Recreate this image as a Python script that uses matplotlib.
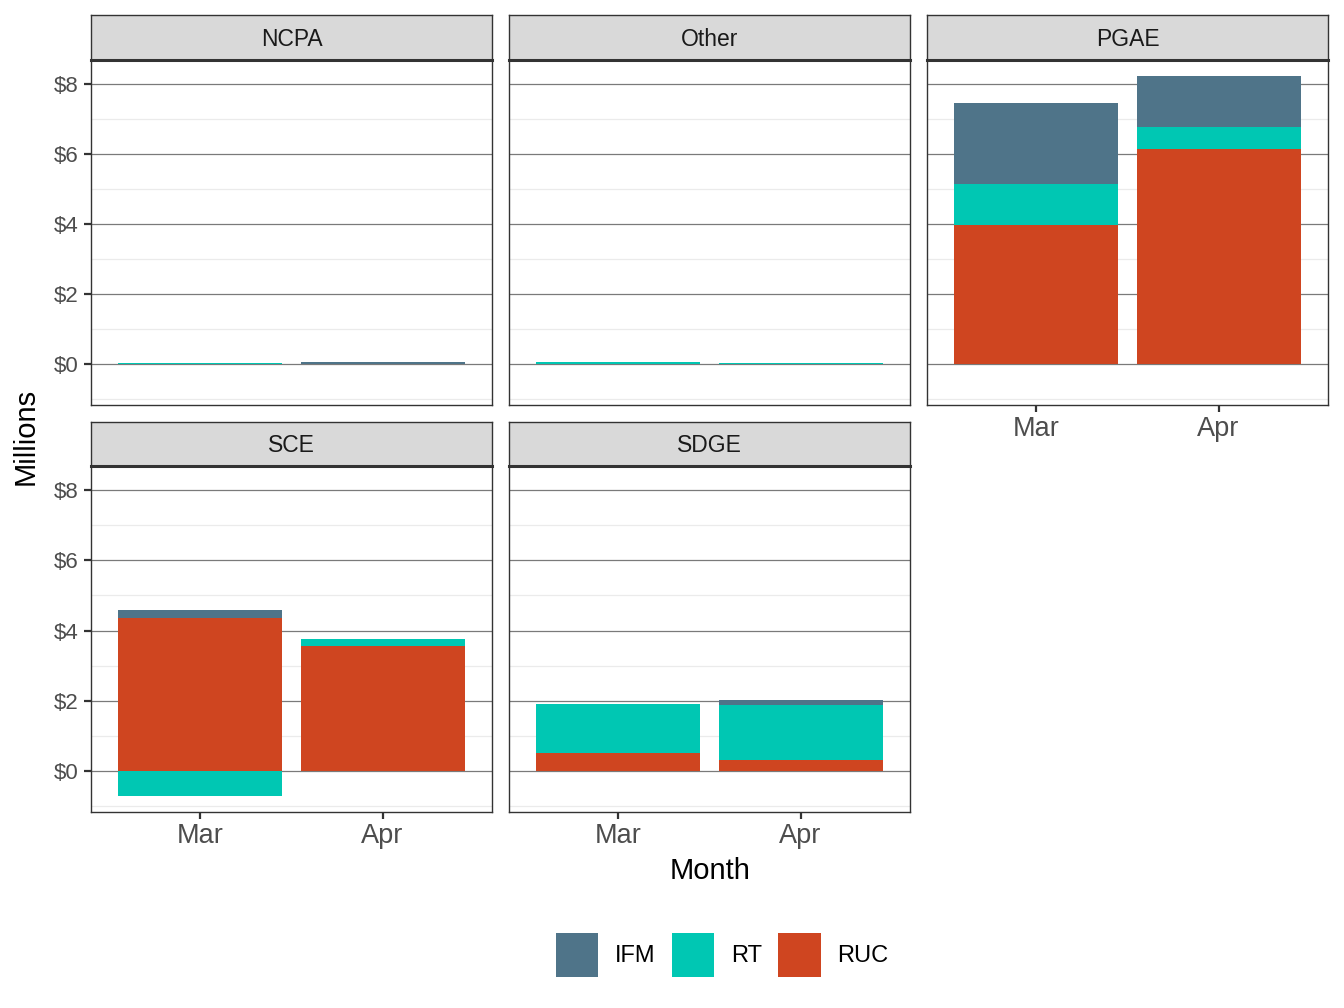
import matplotlib
matplotlib.use("Agg")
import matplotlib.pyplot as plt
from matplotlib.patches import Patch
import numpy as np

plt.rcParams['font.family'] = ['Liberation Sans', 'DejaVu Sans']

# data (millions of $), one value per month
months = ["Mar", "Apr"]
regions = ["NCPA", "Other", "PGAE", "SCE", "SDGE"]
series = ["IFM", "RT", "RUC"]
colors = {"IFM": "#4F7489", "RT": "#00C7B3", "RUC": "#CF4520"}

ifm = {"NCPA": [0.0, 0.04], "Other": [0.0, 0.0], "PGAE": [2.33, 1.45],
       "SCE": [0.23, 0.0], "SDGE": [0.0, 0.14]}
rt = {"NCPA": [0.05, 0.02], "Other": [0.06, 0.05], "PGAE": [1.17, 0.63],
      "SCE": [-0.71, 0.20], "SDGE": [1.40, 1.57]}
ruc = {"NCPA": [0.0, 0.0], "Other": [0.01, 0.0], "PGAE": [3.96, 6.15],
       "SCE": [4.36, 3.56], "SDGE": [0.51, 0.31]}
values = {"IFM": ifm, "RT": rt, "RUC": ruc}

W, H = 1344, 1008
fig = plt.figure(figsize=(W / 100, H / 100), dpi=100)

cols = [(91, 492), (509, 910), (927, 1328)]
rows = [(15, 60, 405), (422, 466, 812)]
border = "#333333"

# common y limits (ggplot style 5% expansion)
pos_tot, neg_tot = [], []
for r in regions:
    for i in range(2):
        p = sum(max(values[s][r][i], 0) for s in series)
        n = sum(min(values[s][r][i], 0) for s in series)
        pos_tot.append(p)
        neg_tot.append(n)
ymin, ymax = min(neg_tot), max(pos_tot)
pad = (ymax - ymin) * 0.05
ylim = (ymin - pad, ymax + pad)


def fx(x):
    return x / W


def fy(y):
    return 1 - y / H


for k, reg in enumerate(regions):
    r, c = divmod(k, 3)
    x0, x1 = cols[c]
    s0, s1, p1 = rows[r]
    ax = fig.add_axes([fx(x0), fy(p1), fx(x1) - fx(x0), fy(s1) - fy(p1)])
    sax = fig.add_axes([fx(x0), fy(s1), fx(x1) - fx(x0), fy(s0) - fy(s1)])

    # strip
    sax.set_facecolor("#D9D9D9")
    sax.set_xticks([])
    sax.set_yticks([])
    for sp in sax.spines.values():
        sp.set_color(border)
        sp.set_linewidth(1.0)
    sax.spines['bottom'].set_linewidth(2.2)
    sax.text(0.5, 0.46, reg, ha="center", va="center", fontsize=16.5,
             color="#1A1A1A", transform=sax.transAxes)

    x = np.arange(1, 3)
    ax.set_axisbelow(True)
    ax.set_yticks([0, 2, 4, 6, 8])
    ax.set_yticks([-1, 1, 3, 5, 7], minor=True)
    ax.yaxis.grid(True, which="major", color="#7A7A7A", lw=0.9)
    ax.yaxis.grid(True, which="minor", color="#EBEBEB", lw=0.9)

    pos = np.zeros(2)
    neg = np.zeros(2)
    for s in ["RUC", "RT", "IFM"]:
        v = np.array(values[s][reg])
        base = np.where(v >= 0, pos, neg)
        ax.bar(x, v, bottom=base, width=0.9, color=colors[s], linewidth=0)
        pos = pos + np.where(v >= 0, v, 0)
        neg = neg + np.where(v < 0, v, 0)

    ax.set_xlim(0.4, 2.6)
    ax.set_ylim(*ylim)
    for sp in ax.spines.values():
        sp.set_color(border)
        sp.set_linewidth(1.0)
    ax.tick_params(axis="both", which="major", length=5, width=1.6,
                   color=border, colors="#4D4D4D")
    ax.tick_params(axis="y", which="minor", length=0)
    ax.tick_params(axis="y", labelsize=16, pad=4)
    ax.tick_params(axis="x", labelsize=19.5, pad=3)
    ax.set_xticks(x)

    if c == 0:
        ax.set_yticklabels(["$0", "$2", "$4", "$6", "$8"])
    else:
        ax.tick_params(axis="y", which="major", length=0, labelleft=False)
    if r == 1 or reg == "PGAE":
        ax.set_xticklabels(months)
    else:
        ax.tick_params(axis="x", length=0, labelbottom=False)

fig.text(fx(710), fy(871), "Month", ha="center", va="center", fontsize=21)
fig.text(fx(26), fy(436), "Millions", ha="center", va="center",
         rotation=90, fontsize=21)

handles = [Patch(facecolor=colors[s], edgecolor="none", label=s) for s in series]
fig.legend(handles=handles, loc="center", bbox_to_anchor=(fx(722), fy(955)),
           ncol=3, frameon=False, fontsize=17, handlelength=1.8,
           handleheight=2.5, handletextpad=0.7, columnspacing=0.7)

fig.savefig("out.png", dpi=100, facecolor="white")
